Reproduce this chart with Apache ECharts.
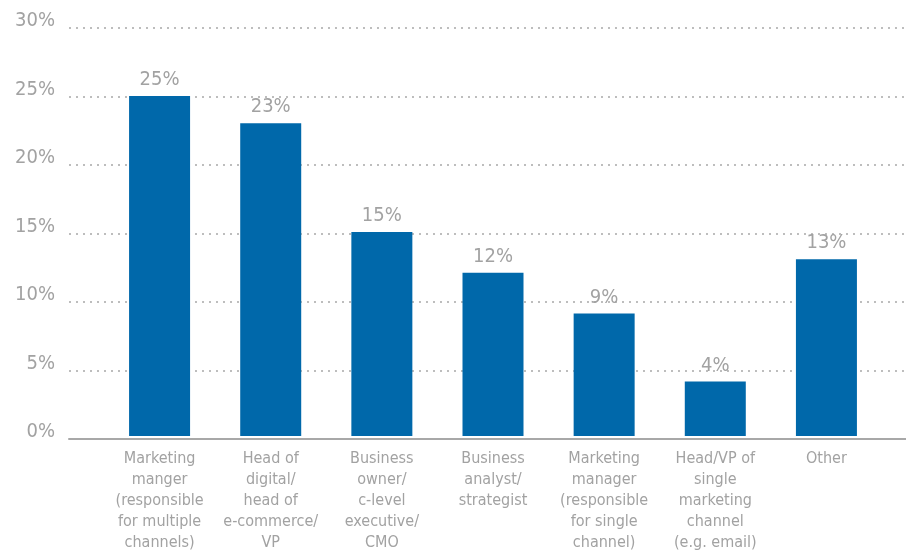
<!DOCTYPE html>
<html>
<head>
<meta charset="utf-8">
<script src="https://cdn.jsdelivr.net/npm/echarts@6/dist/echarts.min.js"></script>
<style>
  html, body { margin: 0; padding: 0; background: #fff; }
  #chart { width: 906px; height: 553px; }
</style>
</head>
<body>
<div id="chart"></div>
<script>
// Job role of respondents (share of total)
const categories = [
  'Marketing\nmanger\n(responsible\nfor multiple\nchannels)',
  'Head of\ndigital/\nhead of\ne-commerce/\nVP',
  'Business\nowner/\nc-level\nexecutive/\nCMO',
  'Business\nanalyst/\nstrategist',
  'Marketing\nmanager\n(responsible\nfor single\nchannel)',
  'Head/VP of\nsingle\nmarketing\nchannel\n(e.g. email)',
  'Other'
];
const shares = [25, 23, 15, 12, 9, 4, 13];
const yTicks = [0, 5, 10, 15, 20, 25, 30];

const FONT = "'Liberation Sans Narrow', 'DejaVu Sans Condensed', 'Roboto', sans-serif";
const GREY = '#a2a2a2';
const BLUE = '#0068aa';

const chart = echarts.init(document.getElementById('chart'));
chart.setOption({
  animation: false,
  grid: [
    { left: 69, right: 0, top: 28, bottom: 114 },
    { left: 104, right: 24, top: 28, bottom: 114 }
  ],
  xAxis: [
    {
      gridIndex: 0, type: 'value', min: 0, max: 1,
      axisLine: { show: true, lineStyle: { color: '#a8a8a8', width: 2 } },
      axisTick: { show: false }, axisLabel: { show: false }, splitLine: { show: false }
    },
    {
      gridIndex: 1, type: 'category', data: categories,
      axisLine: { show: false }, axisTick: { show: false },
      axisLabel: {
        interval: 0, color: GREY, fontFamily: FONT, fontSize: 16,
        lineHeight: 21, margin: 12, verticalAlign: 'top'
      }
    }
  ],
  yAxis: [
    {
      gridIndex: 0, type: 'value', min: yTicks[0], max: yTicks[yTicks.length - 1], interval: 5,
      axisLine: { show: false }, axisTick: { show: false },
      axisLabel: {
        color: GREY, fontFamily: FONT, fontSize: 20, margin: 14,
        lineHeight: 14, verticalAlign: 'bottom', formatter: '{value}%'
      },
      splitLine: { show: true, lineStyle: { color: '#a8a8a8', type: [2, 5], width: 1.5 } }
    },
    {
      gridIndex: 1, type: 'value', min: yTicks[0], max: yTicks[yTicks.length - 1], interval: 5,
      show: false, splitLine: { show: false }
    }
  ],
  series: [{
    type: 'bar',
    xAxisIndex: 1, yAxisIndex: 1,
    data: shares,
    barWidth: 61,
    itemStyle: { color: BLUE },
    label: {
      show: true, position: 'top', distance: 6,
      color: GREY, fontFamily: FONT, fontSize: 20,
      formatter: p => p.value + '%'
    }
  }]
});
</script>
</body>
</html>
